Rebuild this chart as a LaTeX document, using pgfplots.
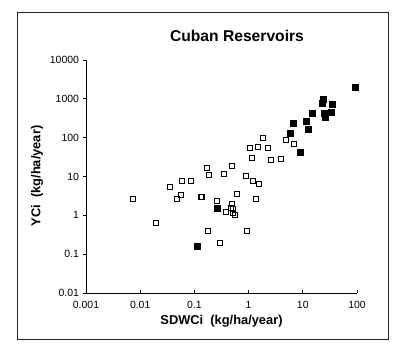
\documentclass[border=0pt]{standalone}
\usepackage{pgfplots}
\pgfplotsset{compat=1.18}
\usepackage{fontspec}
\setmainfont{Liberation Sans}
\begin{document}
\begin{tikzpicture}
\path (0,0) rectangle (400bp,-351bp);
\draw[line width=1bp, black!85] (17bp,-12bp) rectangle (388bp,-339bp);
\begin{axis}[
  at={(86bp,-293bp)}, anchor=south west,
  scale only axis, width=271bp, height=233bp,
  xmode=log, ymode=log,
  xmin=0.001, xmax=100, ymin=0.01, ymax=10000,
  axis lines*=left,
  axis line style={line width=0.8bp},
  xtick={0.001,0.01,0.1,1,10,100},
  xticklabels={0.001,0.01,0.1,1,10,100},
  ytick={0.01,0.1,1,10,100,1000,10000},
  yticklabels={0.01,0.1,1,10,100,1000,10000},
  xminorticks=false, yminorticks=false,
  xtick align=inside, ytick align=outside,
  major tick length=3.5bp,
  tick style={black, line width=0.8bp},
  ticklabel style={font=\fontsize{10.5}{12}\selectfont},
  xticklabel style={yshift=-5bp},
  yticklabel style={xshift=0bp},
  clip=false,
]
\addplot[only marks, mark=square, mark size=2.5bp, mark options={line width=1.1bp, black}] table {
x y
1.84 96.5
4.96 85.7
6.97 67.6
1.07 54.3
1.51 56.6
2.28 53.3
1.17 30.0
2.59 27.3
4.01 28.3
0.895 10.5
1.22 7.66
1.57 6.56
0.171 17.0
0.186 11.2
0.348 11.9
0.500 19.1
0.0584 7.66
0.0855 7.66
0.0355 5.27
0.00747 2.63
0.0471 2.63
0.0558 3.34
0.135 2.96
0.265 2.36
0.602 3.58
1.37 2.58
0.494 1.96
0.468 1.54
0.523 1.43
0.383 1.22
0.509 1.13
0.569 1.04
0.0196 0.622
0.180 0.403
0.946 0.403
0.296 0.193
};
\addplot[only marks, mark=square*, mark size=3bp, mark options={black}] table {
x y
91.8 1955
23.9 959
22.9 757
35.0 726
14.6 418
24.9 418
34.1 451
26.4 330
6.68 235
11.7 265
12.8 162
5.88 130
8.88 42.8
0.258 1.54
0.113 0.159
};
\end{axis}
\node[font=\fontsize{15.7}{18}\selectfont\bfseries] at (237bp,-36bp) {Cuban Reservoirs};
\node[font=\fontsize{12.9}{15}\selectfont\bfseries] at (221.5bp,-321bp) {SDWCi\ \ (kg/ha/year)};
\node[font=\fontsize{12.9}{15}\selectfont\bfseries, rotate=90] at (37bp,-176bp) {YCi\ \ (kg/ha/year)};
\end{tikzpicture}
\end{document}
